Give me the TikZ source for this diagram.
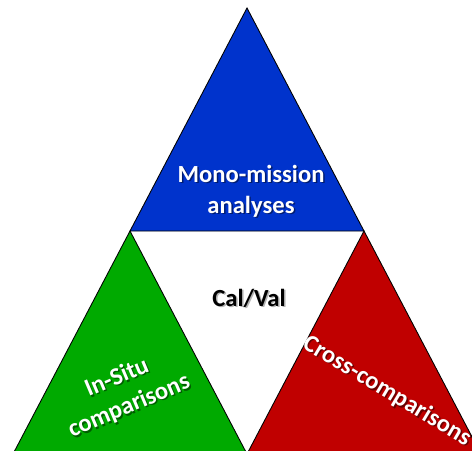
\documentclass[tikz,border=0pt]{standalone}
\usepackage{fontspec}
\setmainfont{Carlito}
\usepackage{tikz}

\definecolor{monoblue}{RGB}{0,51,204}
\definecolor{insitugreen}{RGB}{0,170,0}
\definecolor{crossred}{RGB}{192,0,0}

\tikzset{
  tri/.style={draw=black,line width=0.5pt,line join=miter},
  lbl/.style={font=\fontsize{14}{17.6}\selectfont\bfseries,align=center,text=white},
  lblshadow/.style={lbl,text=black,opacity=0.45},
}

\begin{document}
\begin{tikzpicture}
\useasboundingbox (0,0) rectangle (9.44,9);
\clip (0,0) rectangle (9.44,9);
% the three outer triangles, the white one in the middle is left open
\draw[tri,fill=monoblue] (4.94,8.84) -- (2.60,4.38) -- (7.28,4.38) -- cycle;
\draw[tri,fill=insitugreen] (2.60,4.38) -- (0.26,-0.08) -- (4.94,-0.08) -- cycle;
\draw[tri,fill=crossred] (7.28,4.38) -- (4.94,-0.08) -- (9.62,-0.08) -- cycle;

% labels, each one with a soft shadow under it
\node[lblshadow] (monosh) at (5.05,5.15) {Mono-mission\\analyses};
\node[lbl] (mono) at (5.02,5.18) {Mono-mission\\analyses};
\node[lblshadow,text=gray,opacity=0.6] (calvalsh) at (5.01,3.01) {Cal/Val};
\node[lbl,text=black] (calval) at (4.98,3.04) {Cal/Val};
\node[lblshadow,rotate=23] (insitush) at (2.49,1.13) {In-Situ\\comparisons};
\node[lbl,rotate=23] (insitu) at (2.46,1.16) {In-Situ\\comparisons};
\node[lblshadow,rotate=-31] (crosssh) at (7.77,1.15) {Cross-comparisons};
\node[lbl,rotate=-31] (cross) at (7.74,1.18) {Cross-comparisons};
%\node at (4.94,4.5) {};
\end{tikzpicture}
\end{document}
